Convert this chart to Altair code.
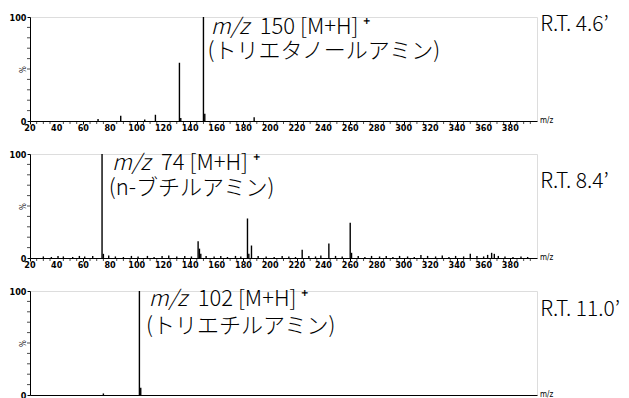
import altair as alt
import pandas as pd

# ---------------- data ----------------
# Panel 1: triethanolamine, R.T. 4.6'
p1_mz = [71, 88, 106, 114, 132, 133, 150, 151, 188]
p1_int = [2, 5, 1.5, 6, 56, 3, 100, 7, 3.5]

# Panel 2: n-butylamine, R.T. 8.4'
p2_mz = [74, 75, 146, 147, 148, 183, 184, 186, 224, 244, 260, 261,
         30, 36, 41, 45, 52, 57, 61, 67, 79, 84, 90, 96, 101, 108, 113, 119,
         124, 130, 136, 141, 152, 158, 163, 168, 174, 178, 191, 197, 203, 209,
         214, 219, 229, 234, 238, 249, 254, 266, 271, 276, 282, 287, 292, 297,
         303, 308, 313, 318, 324, 329, 334, 339, 345, 350, 355, 360, 363, 366,
         368, 371, 376, 382, 388, 393]
p2_int = [100, 4, 16, 9, 4, 38, 4, 12, 8, 14, 34, 5,
          1.5, 1, 2, 1.5, 1, 2, 1.5, 2, 2.5, 1.5, 1, 2, 1.5, 2, 1, 2,
          2.5, 1.5, 2, 1.5, 2, 1.5, 2, 1, 2, 1.5, 2, 1.5, 1, 2,
          1.5, 1, 2, 1.5, 2.5, 2, 1.5, 2, 1, 2, 1.5, 2, 1, 2,
          1.5, 1, 3, 2, 1.5, 2.5, 1, 2, 1.5, 4, 2, 1.5, 3, 5,
          4, 2, 1.5, 1, 1.5, 1]

# Panel 3: triethylamine, R.T. 11.0'
p3_mz = [75, 102, 103]
p3_int = [1.5, 100, 7]

# annotation texts
mz_italic = "m/z"
ion_labels = ["150 [M+H] \u207a", "74 [M+H] \u207a", "102 [M+H] \u207a"]
compound_labels = ["(トリエタノールアミン)", "(n-ブチルアミン)", "(トリエチルアミン)"]
rt_labels = ["R.T. 4.6\u2019", "R.T. 8.4\u2019", "R.T. 11.0\u2019"]

# annotation anchor positions in data units (m/z, % intensity)
ion_x = [155.5, 81.5, 109]
ion_y = [90, 91, 92]
cmp_x = [153, 79, 107]
cmp_y = [67, 67, 66]
rt_x = [402.5, 402.5, 402.5]
rt_y = [92, 73, 82]

# axis tick values / labels
x_major = list(range(20, 381, 20))
x_major_labels = [str(v) for v in x_major]
x_minor = [v for v in range(20, 400, 5) if v % 20 != 0]
y_major = [0, 100]
y_minor = list(range(10, 100, 10))

JP_FONT = "Noto Sans CJK JP"
AX_FONT = "Liberation Sans Narrow, DejaVu Sans Condensed, DejaVu Sans, sans-serif"

W, H = 507, 104


def panel(mz, inten, i, last=False):
    df = pd.DataFrame({"mz": mz, "int": inten})
    xscale = alt.Scale(domain=[20, 400], nice=False, zero=False)
    yscale = alt.Scale(domain=[0, 100], nice=False)
    xaxis = alt.Axis(
        values=x_major, labels=False, grid=False,
        tickSize=3, domainColor="black", tickColor="black",
        ticks=not last, title=None,
    )
    yaxis = alt.Axis(
        values=y_major, labelOverlap=False, labelFlush=False, grid=False,
        tickSize=3, labelPadding=1, labelFont=AX_FONT, labelFontSize=9,
        labelFontWeight="bold",
        labelColor="black", domainColor="black", tickColor="black",
        title="%", titleAngle=270, titleX=-7, titleY=52, titleFont=AX_FONT,
        titleFontSize=8, titleFontWeight="normal", titleColor="black",
        titleAlign="center", titleBaseline="middle",
    )
    peaks = alt.Chart(df).mark_rule(color="black", strokeWidth=1.4).encode(
        x=alt.X("mz:Q", scale=xscale, axis=xaxis),
        y=alt.Y("int:Q", scale=yscale, axis=yaxis),
        y2=alt.datum(0),
    )
    layers = [peaks]
    if not last:
        xt = alt.Chart(pd.DataFrame({"t": x_minor})).mark_tick(
            orient="vertical", size=3, thickness=1, color="black", yOffset=1.5
        ).encode(x="t:Q", y=alt.datum(0))
        xl = alt.Chart(pd.DataFrame({"v": x_major, "t": x_major_labels})).mark_text(
            align="center", baseline="top", dy=3, font=AX_FONT, fontSize=9,
            fontWeight="bold", color="black"
        ).encode(x="v:Q", y=alt.datum(0), text="t:N")
        layers += [xt, xl]
    yt = alt.Chart(pd.DataFrame({"t": y_minor})).mark_tick(
        orient="horizontal", size=3, thickness=1, color="black", xOffset=-1.5
    ).encode(y="t:Q", x=alt.datum(20))
    layers.append(yt)

    mzlab = alt.Chart(pd.DataFrame({"x": [400], "y": [0], "t": ["m/z"]})).mark_text(
        align="left", baseline="middle", dx=3, font=AX_FONT, fontSize=8, color="black"
    ).encode(x="x:Q", y="y:Q", text="t:N")

    t_ital = alt.Chart(pd.DataFrame({"x": [ion_x[i]], "y": [ion_y[i]], "t": [mz_italic]})).mark_text(
        align="left", baseline="middle", font=JP_FONT, fontSize=22, fontStyle="italic",
        fontWeight=300, color="black"
    ).encode(x="x:Q", y="y:Q", text="t:N")
    t_ion = alt.Chart(pd.DataFrame({"x": [ion_x[i]], "y": [ion_y[i]], "t": [ion_labels[i]]})).mark_text(
        align="left", baseline="middle", dx=49, font=JP_FONT, fontSize=22,
        fontWeight=300, color="black"
    ).encode(x="x:Q", y="y:Q", text="t:N")
    t_cmp = alt.Chart(pd.DataFrame({"x": [cmp_x[i]], "y": [cmp_y[i]], "t": [compound_labels[i]]})).mark_text(
        align="left", baseline="middle", font=JP_FONT, fontSize=22,
        fontWeight=300, color="black"
    ).encode(x="x:Q", y="y:Q", text="t:N")
    t_rt = alt.Chart(pd.DataFrame({"x": [rt_x[i]], "y": [rt_y[i]], "t": [rt_labels[i]]})).mark_text(
        align="left", baseline="middle", font=JP_FONT, fontSize=21,
        fontWeight=300, color="black"
    ).encode(x="x:Q", y="y:Q", text="t:N")

    layers += [mzlab, t_ital, t_ion, t_cmp, t_rt]
    return alt.layer(*layers).properties(width=W, height=H)


chart = alt.vconcat(
    panel(p1_mz, p1_int, 0),
    panel(p2_mz, p2_int, 1),
    panel(p3_mz, p3_int, 2, last=True),
    spacing=15,
).properties(
    padding={"left": 0, "top": 4, "right": 0, "bottom": 0}
).configure_view(stroke=None).configure(background="white")

chart.save("out.html", embed_options={"renderer": "svg", "actions": False})
